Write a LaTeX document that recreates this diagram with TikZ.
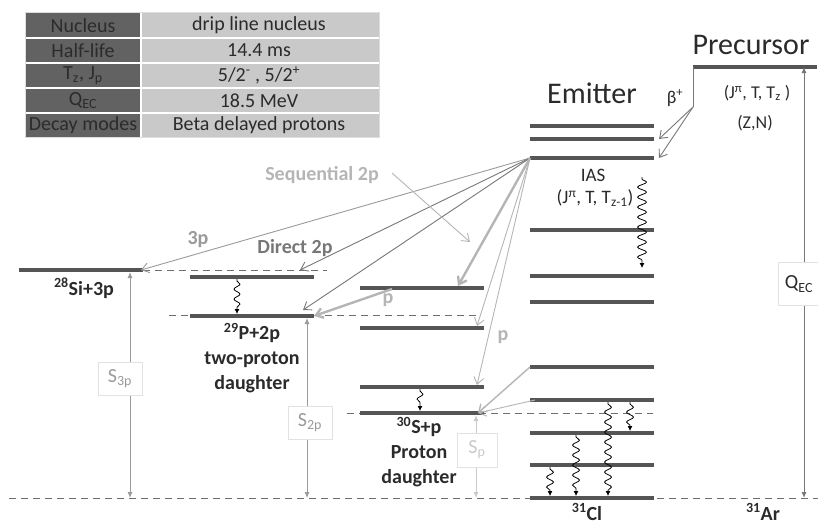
\documentclass[tikz,border=0pt]{standalone}
\usepackage{fontspec}
\setmainfont{Carlito}
\usetikzlibrary{arrows.meta, decorations.pathmorphing}

\definecolor{levelc}{HTML}{555555}
\definecolor{thrc}{HTML}{6E6E6E}
\definecolor{tabdark}{HTML}{626262}
\definecolor{tablight}{HTML}{C9C9C9}
\definecolor{tabedge}{HTML}{DDDDDD}
\definecolor{txtc}{HTML}{2B2B2B}
\definecolor{boxc}{HTML}{E2E2E2}
\definecolor{arrdark}{HTML}{777777}
\definecolor{arrmid}{HTML}{9A9A9A}
\definecolor{arrlight}{HTML}{B5B5B5}
\definecolor{faint}{HTML}{CACACA}

\begin{document}
\begin{tikzpicture}[x=1pt, y=-1pt,
  level/.style={draw=levelc, line width=4pt},
  thr/.style={draw=thrc, line width=0.8pt, dash pattern=on 7pt off 5pt},
  gaparr/.style={draw=#1, line width=0.9pt, {Latex[length=6pt,width=5pt]}-{Latex[length=6pt,width=5pt]}},
  parr/.style={draw=#1, line width=0.9pt, -{Straight Barb[length=7pt,width=10pt]}},
  gam/.style={draw=black, line width=0.8pt, -{Latex[length=5pt,width=5pt]}, decorate,
    decoration={snake, amplitude=#1, segment length=10pt, pre length=2pt, post length=5pt}},
  gam/.default=3pt,
  lab/.style={font=\fontsize{20}{25}\selectfont\bfseries, text=#1},
  lab/.default=txtc,
  txt/.style={font=\fontsize{#1}{#1}\selectfont, text=txtc},
  sbox/.style={draw=boxc, fill=white, line width=0.8pt, inner sep=0pt,
    minimum width=44pt, minimum height=33pt, font=\fontsize{20}{24}\selectfont},
  cell/.style={font=\fontsize{20}{24}\selectfont, text=txtc, inner sep=0pt}
]
\useasboundingbox (0,0) rectangle (818,527);

% Draw table
\fill[tabdark] (25,13) rectangle (141,137);
\fill[tablight] (141,13) rectangle (379,137);
\foreach \y in {38,63,88,113}
  \draw[white, line width=1.5pt] (25,\y) -- (379,\y);
\draw[white, line width=1.5pt] (141,13) -- (141,137);
\draw[tabedge, line width=1pt] (25,13) rectangle (379,137);
\node[cell] (k1) at (83,25.5) {Nucleus};
\node[cell] (v1) at (259,25.5) {drip line nucleus};
\node[cell] (k2) at (83,50.5) {Half-life};
\node[cell] (v2) at (259,50.5) {14.4 ms};
\node[cell] (k3) at (83,75.5) {T\textsubscript{z}, J\textsubscript{p}};
\node[cell] (v3) at (259,75.5) {5/2\textsuperscript{-} , 5/2\textsuperscript{+}};
\node[cell] (k4) at (83,100.5) {Q\textsubscript{EC}};
\node[cell] (v4) at (259,100.5) {18.5 MeV};
\node[cell] (k5) at (83,125) {Decay modes};
\node[cell] (v5) at (259,125) {Beta delayed protons};

% Threshold lines
\draw[thr] (9,498) -- (818,498);
\draw[thr] (143,270) -- (327,270);
\draw[thr] (169,315) -- (477,315);
\draw[thr] (347,413) -- (653,413);

% Draw emitter levels
\foreach \y in {126,139,158,230,276,302,367,400,433,465,498}
  \draw[level] (530,\y) coordinate (em\y) -- (654,\y) coordinate (emr\y);
\node[txt=30] (emit) at (592,93) {Emitter};
\node[txt=19] (ias) at (593,175) {IAS};
\node[txt=19] (iasq) at (595,198) {(J\textsuperscript{π}, T, T\textsubscript{z-1})};
\node[lab] (cl) at (587,512) {\textsuperscript{31}Cl};

% Draw precursor
\draw[level] (693,67) coordinate (pre) -- (817,67);
\node[txt=30] (prec) at (751,45) {Precursor};
\node[txt=18] (jpre) at (757,93) {(J\textsuperscript{π}, T, T\textsubscript{z} )};
\node[txt=18] (zn) at (755,123) {(Z,N)};
\node[txt=18] (bplus) at (675,98) {β\textsuperscript{+}};
\node[lab] (ar) at (763,512) {\textsuperscript{31}Ar};
\coordinate (fork) at (693,107);
\coordinate (b1) at (659,139);
\coordinate (b2) at (659,158);
\draw[draw=arrdark, line width=0.9pt] (pre) -- (fork);
\draw[parr=arrdark] (fork) -- (b1);
\draw[parr=arrdark] (fork) -- (b2);

% Daughter levels
\draw[level] (19,270) -- (143,270) coordinate (si);
\draw[level] (190,277) coordinate (pa) -- (314,277);
\draw[level] (190,316) coordinate (pb) -- (314,316) coordinate (pbr);
\foreach \y in {288,328,387,413}
  \draw[level] (360,\y) coordinate (s\y) -- (484,\y) coordinate (sr\y);
\node[lab] (silab) at (84,288) {\textsuperscript{28}Si+3p};
\node[lab, align=center] (plab) at (252,358) {\textsuperscript{29}P+2p\\two-proton\\daughter};
\node[lab, align=center] (slab) at (419,452) {\textsuperscript{30}S+p\\Proton\\daughter};

% Proton emission from the IAS
\coordinate (t3p) at (141,270);
\coordinate (td1) at (300,270);
\coordinate (td2) at (303,310);
\coordinate (tsa) at (458,286);
\coordinate (tsb) at (477,326);
\coordinate (tsc) at (477,385);
\coordinate (tsp) at (478,413);
\draw[parr=arrmid] (em158) -- (t3p);
\draw[parr=arrdark] (em158) -- (td1);
\draw[parr=arrdark] (em158) -- (td2);
\draw[parr=arrlight, line width=2.4pt] (em158) -- (tsa);
\draw[parr=arrlight] (em158) -- (tsb);
\draw[parr=arrlight] (em158) -- (tsc);
\draw[parr=arrlight, line width=2.4pt] (392,289) coordinate (pup) -- (pbr);
\draw[parr=arrlight, line width=1.4pt] (em367) -- (tsp);
\draw[parr=arrlight] (535,400) coordinate (em400b) -- (tsp);
\coordinate (seqa) at (392,173);
\coordinate (seqb) at (470,242);
\draw[parr=arrlight] (seqa) -- (seqb);
\node[lab=arrmid] (l3p) at (198,240) {3p};
\node[lab=arrdark] (ld2p) at (295,248) {Direct 2p};
\node[lab=arrlight] (lseq) at (322,175) {Sequential 2p};
\node[lab=arrlight] (lp1) at (388,300) {p};
\node[lab=arrlight] (lp2) at (503,337) {p};

% Gamma transitions
\draw[gam={4.5pt}] (642,177) coordinate (ga) -- (642,268) coordinate (gb);
\draw[gam] (237,279) coordinate (gc) -- (237,314) coordinate (gd);
\draw[gam] (420,389) coordinate (ge) -- (420,411) coordinate (gf);
\foreach \x/\ya/\yb [count=\i] in {608/402/496, 630/402/431, 576/435/496, 550/467/496} {
  \coordinate (gt\i) at (\x,\ya);
  \coordinate (gu\i) at (\x,\yb);
  \draw[gam={3.5pt}] (gt\i) -- (gu\i);
}

% Separation energies
\coordinate (qtop) at (804,67);
\coordinate (qbot) at (804,498);
\draw[gaparr=arrdark] (qtop) -- (qbot);
\draw[gaparr=arrmid] (130,272) coordinate (s3t) -- (130,498) coordinate (s3b);
\draw[gaparr=arrmid] (307,318) coordinate (s2t) -- (307,498) coordinate (s2b);
\draw[gaparr=faint] (476,415) coordinate (s1t) -- (476,498) coordinate (s1b);
\node[sbox, text=arrmid] (bs3) at (120,379) {S\textsubscript{3p}};
\node[sbox, text=arrmid] (bs2) at (310,423) {S\textsubscript{2p}};
\node[sbox, text=faint, minimum width=40pt, minimum height=34pt] (bs1) at (477,450) {S\textsubscript{p}};
\node[sbox, text=txtc, minimum width=42pt, minimum height=43pt] (bq) at (799,284) {Q\textsubscript{EC}};
\end{tikzpicture}
\end{document}
